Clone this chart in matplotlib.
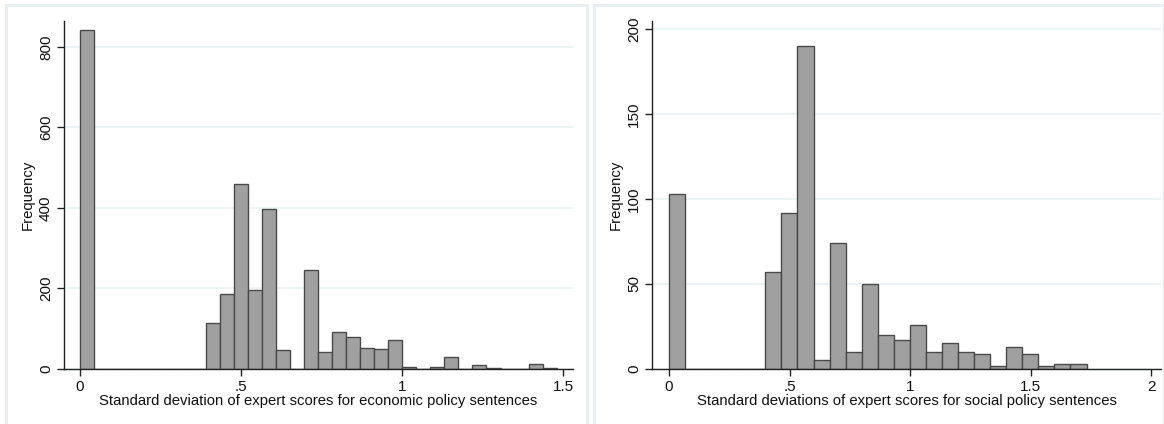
import numpy as np
import matplotlib
matplotlib.use("Agg")
import matplotlib.pyplot as plt
from matplotlib.patches import Rectangle

plt.rcParams['font.family'] = ['Liberation Sans', 'DejaVu Sans']

# economic policy: 34 bins starting at 0
econ_width = 1.48 / 34
econ_counts = [843, 0, 0, 0, 0, 0, 0, 0, 0, 113, 186, 459, 196, 398, 46, 0,
               246, 41, 91, 79, 53, 50, 73, 4, 1, 4, 29, 1, 9, 2, 0, 0, 12, 2]

# social policy: 26 bins starting at 0
soc_width = 1.732 / 26
soc_counts = [103, 0, 0, 0, 0, 0, 57, 92, 190, 5, 74, 10, 50, 20, 17, 26,
              10, 15, 10, 9, 2, 13, 9, 2, 3, 3]

econ_xticks = [0, 0.5, 1, 1.5]
econ_xlabels = ['0', '.5', '1', '1.5']
econ_yticks = [0, 200, 400, 600, 800]
soc_xticks = [0, 0.5, 1, 1.5, 2]
soc_xlabels = ['0', '.5', '1', '1.5', '2']
soc_yticks = [0, 50, 100, 150, 200]

W, H = 1164, 424
fig = plt.figure(figsize=(W / 100, H / 100), dpi=100)

# light panel frames
frame_col = '#e8eff3'
for x0, x1 in [(6, 587), (594, 1164)]:
    fig.patches.append(Rectangle((x0 / W, -0.1), (x1 - x0) / W, 1.1 - 5 / H,
                                 transform=fig.transFigure, fill=False,
                                 edgecolor=frame_col, linewidth=2.2))


def draw(rect, counts, width, xticks, xlabels, yticks, xlim, ylim, xlabel):
    ax = fig.add_axes(rect)
    edges = np.arange(len(counts)) * width
    ax.bar(edges, counts, width=width, align='edge', color='#a0a0a0',
           edgecolor='#4a4a4a', linewidth=1.0)
    ax.set_xlim(*xlim)
    ax.set_ylim(*ylim)
    ax.set_xticks(xticks)
    ax.set_xticklabels(xlabels)
    ax.set_yticks(yticks)
    ax.set_yticklabels([str(t) for t in yticks], rotation=90, va='center')
    ax.yaxis.grid(True, color='#eaf2f3', linewidth=1.2)
    ax.set_axisbelow(True)
    for s in ['top', 'right']:
        ax.spines[s].set_visible(False)
    for s in ['left', 'bottom']:
        ax.spines[s].set_color('#222222')
        ax.spines[s].set_linewidth(1.0)
    ax.tick_params(axis='both', length=5, width=1, color='#222222',
                   labelsize=11, labelcolor='#111111', pad=3)
    ax.set_xlabel(xlabel, fontsize=10.7, color='#111111', labelpad=0)
    ax.set_ylabel('Frequency', fontsize=10.7, color='#111111', labelpad=3)
    return ax


bottom = 1 - 369 / H
height = (369 - 20.7) / H
draw([64 / W, bottom, (573 - 64) / W, height], econ_counts, econ_width,
     econ_xticks, econ_xlabels, econ_yticks, (-0.0497, 1.531), (0, 865),
     'Standard deviation of expert scores for economic policy sentences')
draw([652 / W, bottom, (1161 - 652) / W, height], soc_counts, soc_width,
     soc_xticks, soc_xlabels, soc_yticks, (-0.0705, 2.041), (0, 204.8),
     'Standard deviations of expert scores for social policy sentences')

fig.savefig('out.png', dpi=100)
